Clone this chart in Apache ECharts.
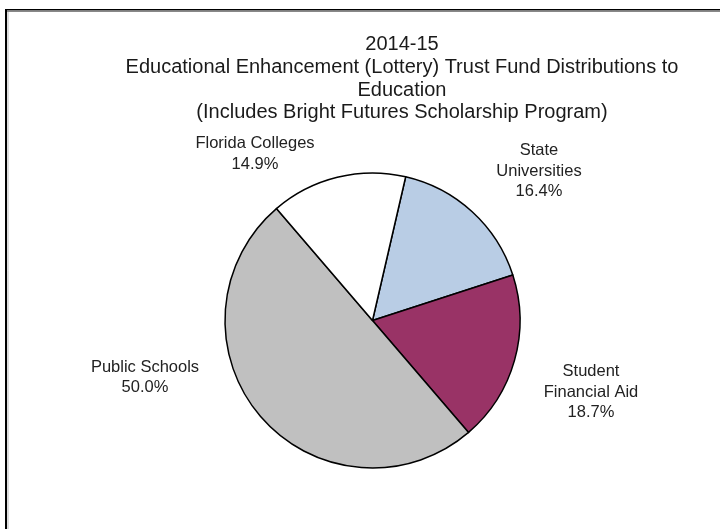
<!DOCTYPE html>
<html>
<head>
<meta charset="utf-8">
<script src="https://cdn.jsdelivr.net/npm/echarts@6/dist/echarts.min.js"></script>
<style>html,body{margin:0;padding:0;background:#fff}#c{width:720px;height:529px}</style>
</head>
<body>
<div id="c"></div>
<script>
var titleLines = ["2014-15", "Educational Enhancement (Lottery) Trust Fund Distributions to", "Education", "(Includes Bright Futures Scholarship Program)"];
var categories = ["State\nUniversities", "Student\nFinancial Aid", "Public Schools", "Florida Colleges"];
var values = [16.4, 18.7, 50.0, 14.9];
var colors = ["#B9CDE5", "#993366", "#C0C0C0", "#FFFFFF"];

var labelPos = [[539, 171], [591, 392], [145, 377.5], [255, 154]];
var chart = echarts.init(document.getElementById('c'));
chart.setOption({
  animation: false,
  backgroundColor: '#fff',
  title: {
    text: titleLines.join('\n'),
    left: 397, top: 28.5, textAlign: 'center',
    textStyle: {fontFamily: 'Liberation Sans, Arial', fontSize: 20, fontWeight: 'normal', color: '#1a1a1a', lineHeight: 22.7}
  },
  graphic: [
    {type: 'line', shape: {x1: 5, y1: 9.75, x2: 720, y2: 9.75}, style: {stroke: '#000', lineWidth: 1.5}},
    {type: 'line', shape: {x1: 6, y1: 11.5, x2: 720, y2: 11.5}, style: {stroke: '#888', lineWidth: 1}},
    {type: 'line', shape: {x1: 6, y1: 9, x2: 6, y2: 529}, style: {stroke: '#000', lineWidth: 2}},
    {type: 'line', shape: {x1: 8, y1: 12, x2: 8, y2: 529}, style: {stroke: '#bbb', lineWidth: 1}}
  ],
  series: [{
    type: 'pie',
    center: [372.5, 320.5],
    radius: 147.5,
    startAngle: 77,
    clockwise: true,
    data: categories.map(function (c, i) {
      return {name: c, value: values[i], itemStyle: {color: colors[i]}};
    }),
    itemStyle: {borderColor: '#000', borderWidth: 1.5},
    label: {
      show: true, position: 'outside',
      formatter: function (p) { return p.name + '\n' + p.value.toFixed(1) + '%'; },
      fontFamily: 'Liberation Sans, Arial', fontSize: 16.5, color: '#222',
      lineHeight: 20.5, align: 'center', verticalAlign: 'middle'
    },
    labelLine: {show: false},
    labelLayout: function (p) {
      var pos = labelPos[p.dataIndex];
      return {x: pos[0], y: pos[1], align: 'center', verticalAlign: 'middle'};
    },
    emphasis: {disabled: true}
  }]
});
</script>
</body>
</html>
